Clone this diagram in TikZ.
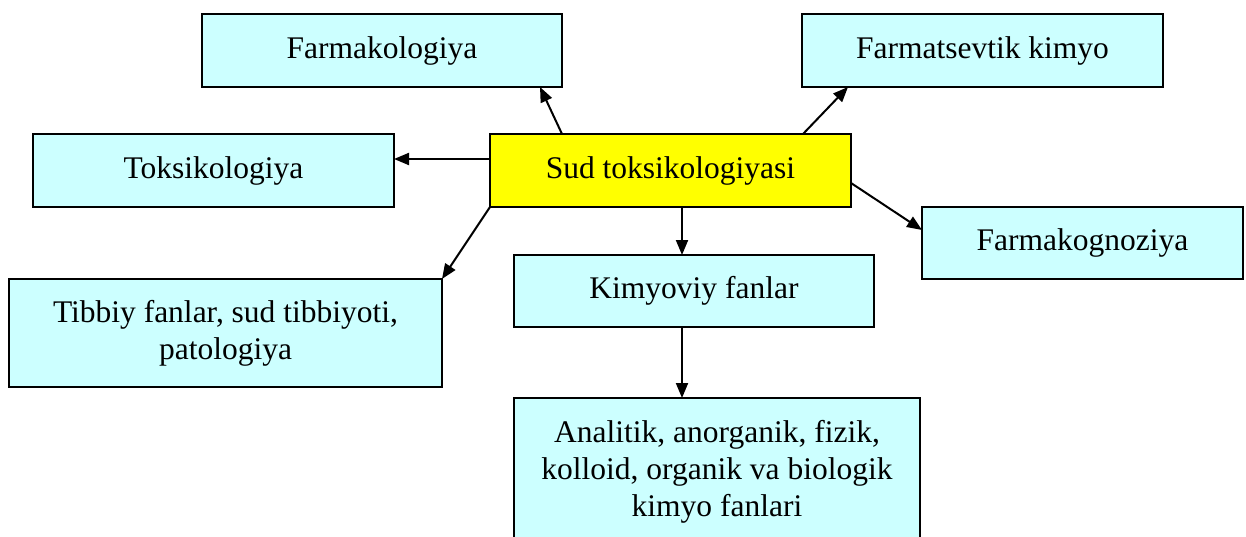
\documentclass[tikz,border=0pt]{standalone}
\usepackage{fontspec}
\setmainfont{Liberation Serif}
\usepackage{xcolor}
\usetikzlibrary{arrows.meta}
\definecolor{boxcyan}{RGB}{204,255,255}
\definecolor{boxyellow}{RGB}{255,255,0}

\begin{document}
\begin{tikzpicture}[x=1pt, y=-1pt,
  box/.style={draw, line width=2pt, fill=boxcyan, inner sep=0pt, outer sep=0pt,
    align=center, font=\fontsize{31.5}{37}\selectfont},
  arr/.style={line width=2pt, -{Triangle[length=15pt, width=12pt]}}]
  \useasboundingbox (0,0) rectangle (1246,537);
  \clip (0,0) rectangle (1246,537);

  % Centre
  \node[box, fill=boxyellow, minimum width=361pt, minimum height=73pt] (sud) at (670.5,170.5) {Sud toksikologiyasi};

  % Top row
  \node[box, minimum width=360pt, minimum height=73pt] (farmak) at (382,50.5) {Farmakologiya};
  \node[box, minimum width=361pt, minimum height=73pt] (farmats) at (982.5,50.5) {Farmatsevtik kimyo};

  % Sides
  \node[box, minimum width=361pt, minimum height=73pt] (toks) at (213.5,170.5) {Toksikologiya};
  \node[box, minimum width=321pt, minimum height=72pt] (farmakog) at (1082.5,243) {Farmakognoziya};

  % Lower part
  \node[box, minimum width=433pt, minimum height=108pt] (tibbiy) at (225.5,333) {Tibbiy fanlar, sud tibbiyoti,\\patologiya};
  \node[box, minimum width=360pt, minimum height=72pt] (kimyo) at (694,291) {Kimyoviy fanlar};
  \node[box, minimum width=406pt, minimum height=147pt] (analitik) at (717,471.5) {Analitik, anorganik, fizik,\\kolloid, organik va biologik\\kimyo fanlari};

  % Arrows
  \draw[arr] ([xshift=72pt]sud.north west) -- ([xshift=-22pt]farmak.south east);
  \draw[arr] ([xshift=-48pt]sud.north east) -- ([xshift=46pt]farmats.south west);
  \draw[arr] ([yshift=11.5pt]sud.west) -- ([yshift=11.5pt]toks.east);
  \draw[arr] (sud.south west) -- (tibbiy.north east);
  \draw[arr] ([yshift=-12.5pt]sud.east) -- ([yshift=13pt]farmakog.west);
  \draw[arr] ([xshift=11.5pt]sud.south) -- ([xshift=11.5pt]sud.south |- kimyo.north);
  \draw[arr] ([xshift=-12pt]kimyo.south) -- ([xshift=-12pt]kimyo.south |- analitik.north);
\end{tikzpicture}
\end{document}
